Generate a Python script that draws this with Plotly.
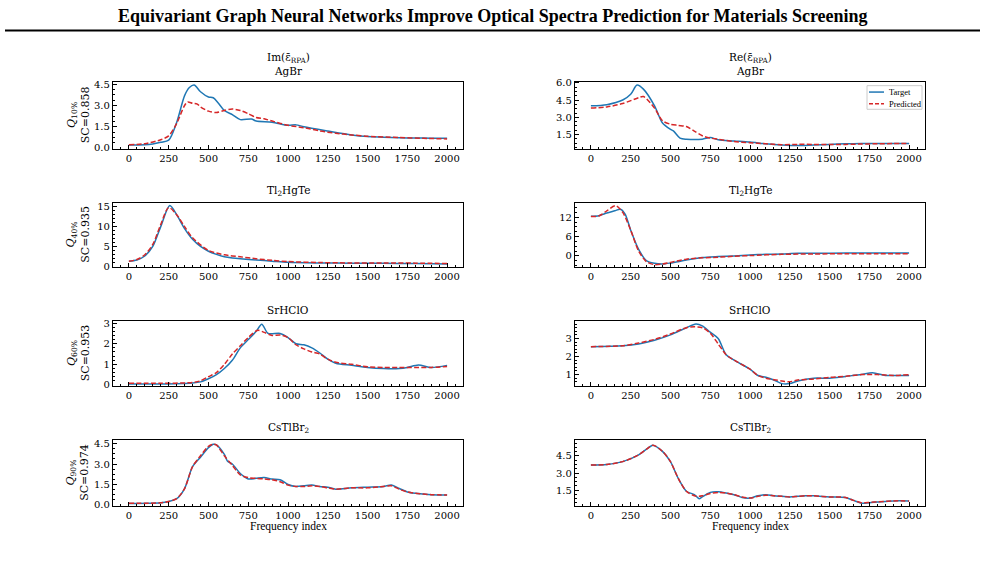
import plotly.graph_objects as go

W, H = 985, 561

# ------------------------- data -------------------------
freq_ticks = [0, 250, 500, 750, 1000, 1250, 1500, 1750, 2000]
materials = ["AgBr", "Tl<sub>2</sub>HgTe", "SrHClO", "CsTlBr<sub>2</sub>"]
quantiles = ["10%", "40%", "60%", "90%"]
sc_scores = ["0.858", "0.935", "0.953", "0.974"]
col_titles = ["Im(ε̄<sub>RPA</sub>)", "Re(ε̄<sub>RPA</sub>)"]

# AgBr, Im
agbr_im_tx = [0, 100, 150, 200, 250, 300, 350, 380, 410, 450, 500, 530, 560, 600, 650, 700, 770, 800, 900, 1000, 1050, 1100, 1250, 1400, 1500, 1600, 1700, 1800, 1900, 2000]
agbr_im_ty = [0.2, 0.22, 0.28, 0.4, 0.55, 1.8, 3.7, 4.27, 4.45, 3.97, 3.6, 3.55, 3.2, 2.65, 2.35, 2.0, 2.05, 1.9, 1.82, 1.6, 1.63, 1.5, 1.2, 0.92, 0.8, 0.76, 0.72, 0.7, 0.69, 0.69]
agbr_im_px = [0, 100, 200, 250, 300, 350, 370, 400, 430, 450, 500, 550, 600, 650, 700, 750, 800, 850, 900, 1000, 1100, 1200, 1300, 1400, 1500, 1700, 1850, 2000]
agbr_im_py = [0.23, 0.3, 0.58, 0.85, 1.73, 3.0, 3.25, 3.15, 3.1, 2.9, 2.6, 2.5, 2.65, 2.75, 2.65, 2.42, 2.15, 2.06, 1.9, 1.6, 1.43, 1.2, 1.04, 0.92, 0.82, 0.74, 0.68, 0.64]

# AgBr, Re
agbr_re_tx = [0, 100, 200, 250, 290, 330, 400, 450, 500, 520, 560, 600, 700, 750, 800, 900, 1000, 1100, 1200, 1300, 1400, 1500, 1600, 1700, 1800, 1900, 2000]
agbr_re_ty = [4.0, 4.1, 4.5, 5.0, 5.8, 5.45, 4.0, 2.5, 1.95, 1.8, 1.2, 1.1, 1.1, 1.25, 1.05, 0.95, 0.85, 0.7, 0.6, 0.55, 0.6, 0.65, 0.7, 0.72, 0.72, 0.72, 0.72]
agbr_re_px = [0, 100, 200, 300, 330, 400, 450, 500, 550, 600, 650, 700, 750, 800, 900, 1000, 1100, 1200, 1300, 1400, 1500, 1600, 1700, 1800, 1900, 2000]
agbr_re_py = [3.8, 3.9, 4.2, 4.7, 4.8, 3.8, 2.7, 2.4, 2.3, 2.2, 1.8, 1.4, 1.2, 1.1, 0.9, 0.8, 0.7, 0.62, 0.65, 0.65, 0.65, 0.65, 0.68, 0.7, 0.72, 0.72]

# Tl2HgTe, Im
tl_im_tx = [0, 50, 100, 150, 200, 257, 300, 350, 400, 450, 500, 550, 600, 650, 700, 800, 900, 1000, 1200, 1400, 1600, 1800, 2000]
tl_im_ty = [1.3, 1.6, 2.6, 5.0, 10.0, 15.3, 13.0, 9.5, 6.8, 5.0, 3.8, 3.0, 2.4, 2.1, 1.9, 1.6, 1.3, 1.0, 0.85, 0.8, 0.75, 0.7, 0.6]
tl_im_px = [0, 50, 100, 150, 200, 250, 300, 350, 400, 500, 600, 700, 800, 900, 1000, 1200, 1400, 1600, 1800, 2000]
tl_im_py = [1.3, 1.7, 2.9, 5.5, 10.5, 14.8, 13.0, 10.0, 7.2, 4.0, 2.9, 2.4, 1.9, 1.5, 1.2, 0.95, 0.85, 0.85, 0.8, 0.7]

# Tl2HgTe, Re
tl_re_tx = [0, 50, 100, 150, 185, 215, 250, 300, 350, 400, 450, 500, 600, 700, 800, 900, 1000, 1100, 1200, 1300, 1500, 1700, 2000]
tl_re_ty = [12.3, 12.5, 13.3, 14.0, 14.5, 13.0, 8.0, 2.0, -1.5, -2.3, -2.5, -2.2, -1.3, -0.5, -0.2, 0.0, 0.3, 0.5, 0.6, 0.8, 0.85, 0.9, 0.9]
tl_re_px = [0, 50, 100, 155, 200, 250, 300, 350, 400, 450, 500, 600, 700, 800, 900, 1000, 1200, 1400, 1600, 1800, 2000]
tl_re_py = [12.2, 12.4, 14.0, 15.6, 13.5, 8.0, 1.5, -1.8, -2.7, -2.5, -2.0, -1.0, -0.6, -0.4, -0.1, 0.1, 0.5, 0.6, 0.7, 0.7, 0.7]

# SrHClO, Im
sr_im_tx = [0, 200, 400, 450, 500, 550, 600, 650, 700, 750, 800, 835, 875, 950, 1000, 1050, 1100, 1150, 1200, 1250, 1300, 1400, 1500, 1600, 1700, 1750, 1820, 1900, 2000]
sr_im_ty = [0.05, 0.05, 0.1, 0.15, 0.3, 0.5, 0.8, 1.2, 1.8, 2.2, 2.6, 2.95, 2.5, 2.5, 2.3, 2.0, 1.95, 1.8, 1.55, 1.25, 1.05, 0.95, 0.85, 0.8, 0.8, 0.85, 0.97, 0.85, 0.95]
sr_im_px = [0, 200, 400, 450, 500, 550, 600, 650, 700, 750, 810, 850, 900, 950, 1000, 1050, 1100, 1150, 1200, 1250, 1300, 1400, 1500, 1600, 1700, 1800, 1900, 2000]
sr_im_py = [0.08, 0.08, 0.12, 0.2, 0.4, 0.6, 1.0, 1.5, 1.9, 2.3, 2.65, 2.55, 2.4, 2.42, 2.3, 1.95, 1.75, 1.6, 1.5, 1.25, 1.1, 1.0, 0.88, 0.85, 0.85, 0.85, 0.85, 0.9]

# SrHClO, Re
sr_re_tx = [0, 200, 300, 400, 500, 600, 660, 700, 750, 800, 850, 900, 1000, 1050, 1100, 1150, 1200, 1250, 1300, 1400, 1500, 1600, 1700, 1770, 1850, 1900, 2000]
sr_re_ty = [2.55, 2.6, 2.7, 2.9, 3.2, 3.6, 3.8, 3.7, 3.35, 3.0, 2.1, 1.8, 1.3, 0.95, 0.85, 0.7, 0.5, 0.5, 0.65, 0.8, 0.8, 0.9, 1.0, 1.1, 0.95, 0.95, 0.95]
sr_re_px = [0, 200, 300, 400, 500, 600, 650, 700, 750, 800, 850, 900, 1000, 1050, 1100, 1200, 1250, 1300, 1400, 1500, 1600, 1700, 1800, 1900, 2000]
sr_re_py = [2.55, 2.6, 2.75, 2.95, 3.25, 3.6, 3.65, 3.6, 3.3, 2.7, 2.1, 1.8, 1.3, 0.95, 0.8, 0.65, 0.6, 0.7, 0.75, 0.85, 0.9, 1.0, 1.0, 0.95, 1.0]

# CsTlBr2, Im
cs_im_tx = [0, 200, 250, 300, 350, 400, 450, 500, 530, 550, 600, 620, 650, 700, 750, 800, 850, 900, 950, 1000, 1050, 1100, 1150, 1200, 1250, 1300, 1400, 1500, 1600, 1650, 1700, 1750, 1800, 1900, 2000]
cs_im_ty = [0.1, 0.15, 0.25, 0.45, 1.2, 2.8, 3.5, 4.2, 4.45, 4.4, 3.7, 3.2, 3.0, 2.3, 1.9, 1.95, 2.0, 1.9, 1.85, 1.5, 1.35, 1.4, 1.45, 1.35, 1.3, 1.15, 1.25, 1.3, 1.35, 1.45, 1.2, 0.95, 0.85, 0.75, 0.72]
cs_im_px = [0, 200, 250, 300, 350, 400, 450, 500, 530, 550, 600, 650, 700, 750, 800, 850, 900, 950, 1000, 1050, 1100, 1150, 1200, 1250, 1300, 1400, 1500, 1600, 1650, 1700, 1750, 1800, 1900, 2000]
cs_im_py = [0.12, 0.15, 0.25, 0.45, 1.2, 2.8, 3.6, 4.3, 4.45, 4.4, 3.6, 2.9, 2.2, 2.0, 1.95, 1.9, 1.85, 1.7, 1.45, 1.35, 1.35, 1.4, 1.35, 1.25, 1.15, 1.25, 1.25, 1.35, 1.4, 1.15, 0.95, 0.85, 0.75, 0.72]

# CsTlBr2, Re
cs_re_tx = [0, 100, 200, 300, 350, 390, 450, 500, 550, 600, 650, 680, 700, 750, 800, 850, 900, 950, 1000, 1050, 1100, 1150, 1200, 1250, 1300, 1350, 1400, 1500, 1600, 1650, 1700, 1750, 1800, 1900, 2000]
cs_re_ty = [3.7, 3.75, 4.0, 4.6, 5.1, 5.45, 4.9, 4.0, 2.5, 1.4, 1.1, 0.75, 0.9, 1.3, 1.35, 1.25, 1.1, 0.85, 0.8, 1.0, 1.1, 1.0, 0.95, 0.9, 0.95, 1.0, 1.0, 0.9, 0.85, 0.6, 0.35, 0.4, 0.45, 0.55, 0.55]
cs_re_px = [0, 100, 200, 300, 350, 390, 450, 500, 550, 600, 650, 680, 700, 750, 800, 850, 900, 950, 1000, 1050, 1100, 1150, 1200, 1250, 1300, 1350, 1400, 1500, 1600, 1650, 1700, 1750, 1800, 1900, 2000]
cs_re_py = [3.7, 3.75, 4.0, 4.6, 5.1, 5.45, 4.9, 4.0, 2.5, 1.4, 1.0, 0.95, 1.0, 1.2, 1.3, 1.25, 1.1, 0.9, 0.8, 0.95, 1.05, 1.0, 0.95, 0.9, 0.95, 1.0, 1.0, 0.9, 0.85, 0.6, 0.4, 0.42, 0.47, 0.55, 0.55]

series = [  # (target x, target y, predicted x, predicted y), row-major: Im, Re
    (agbr_im_tx, agbr_im_ty, agbr_im_px, agbr_im_py),
    (agbr_re_tx, agbr_re_ty, agbr_re_px, agbr_re_py),
    (tl_im_tx, tl_im_ty, tl_im_px, tl_im_py),
    (tl_re_tx, tl_re_ty, tl_re_px, tl_re_py),
    (sr_im_tx, sr_im_ty, sr_im_px, sr_im_py),
    (sr_re_tx, sr_re_ty, sr_re_px, sr_re_py),
    (cs_im_tx, cs_im_ty, cs_im_px, cs_im_py),
    (cs_re_tx, cs_re_ty, cs_re_px, cs_re_py),
]

y_ranges = [[-0.05, 4.68], [0.28, 6.09], [-0.1, 16.0], [-3.35, 16.5],
            [-0.04, 3.11], [0.38, 3.98], [-0.07, 4.77], [0.12, 5.91]]
y_dticks = [1.5, 1.5, 5, 6, 1, 1, 1.5, 1.5]
y_minor = [0.375, 0.375, 1, 1.5, 0.2, 0.2, 0.375, 0.375]
y_fmt = [".1f", ".1f", "d", "d", "d", "d", ".1f", ".1f"]

# ------------------------- layout -------------------------
col_px = [(113, 463), (575, 925)]
row_px = [(79, 147), (202, 267), (322, 388), (443, 510)]

BLUE = "#1f77b4"
RED = "#d62728"
SERIF = "DejaVu Serif"
TIMES = "Liberation Serif"

def px_x(x):
    return x / W

def px_y(y):
    return 1 - y / H

fig = go.Figure()
annotations = []
shapes = []
layout = {}

for i, (tx, ty, pxs, pys) in enumerate(series):
    r, c = divmod(i, 2)
    n = i + 1
    xa = "x" if n == 1 else f"x{n}"
    ya = "y" if n == 1 else f"y{n}"
    fig.add_trace(go.Scatter(x=tx, y=ty, mode="lines", xaxis=xa, yaxis=ya,
                             line=dict(color=BLUE, width=1.5, shape="spline", smoothing=0.8),
                             name="Target", showlegend=False))
    fig.add_trace(go.Scatter(x=pxs, y=pys, mode="lines", xaxis=xa, yaxis=ya,
                             line=dict(color=RED, width=1.5, dash="5px,2.3px", shape="spline", smoothing=0.8),
                             name="Predicted", showlegend=False))
    x0, x1 = col_px[c]
    y0, y1 = row_px[r]
    axis_common = dict(showline=True, mirror=True, linecolor="black", linewidth=1.2,
                       ticks="inside", tickcolor="black", tickwidth=1, ticklen=4,
                       showgrid=False, zeroline=False,
                       tickfont=dict(family=SERIF, size=10, color="black"))
    layout["xaxis" if n == 1 else f"xaxis{n}"] = dict(
        domain=[px_x(x0), px_x(x1)], anchor=ya, range=[-100, 2100],
        tickvals=freq_ticks, ticktext=[str(v) for v in freq_ticks],
        minor=dict(ticks="inside", ticklen=2, tickwidth=1, tickcolor="black", dtick=50, tick0=0),
        **axis_common)
    layout["yaxis" if n == 1 else f"yaxis{n}"] = dict(
        domain=[px_y(y1), px_y(y0)], anchor=xa, range=y_ranges[i],
        dtick=y_dticks[i], tick0=0, tickformat=y_fmt[i],
        minor=dict(ticks="inside", ticklen=2, tickwidth=1, tickcolor="black", dtick=y_minor[i], tick0=0),
        **axis_common)

    cx = px_x((x0 + x1) / 2)
    # panel title
    annotations.append(dict(text=materials[r], x=cx, y=px_y(y0), xref="paper", yref="paper",
                            xanchor="center", yanchor="bottom", yshift=3, showarrow=False,
                            font=dict(family=SERIF, size=10.5, color="black")))
    if r == 0:
        annotations.append(dict(text=col_titles[c], x=cx, y=px_y(y0), xref="paper", yref="paper",
                                xanchor="center", yanchor="bottom", yshift=15, showarrow=False,
                                font=dict(family=SERIF, size=10.5, color="black")))
    if c == 0:
        annotations.append(dict(text=f"<i>Q</i><sub>{quantiles[r]}</sub><br>SC={sc_scores[r]}",
                                x=px_x(78), y=px_y((y0 + y1) / 2), xref="paper", yref="paper",
                                xanchor="center", yanchor="middle", textangle=-90, showarrow=False,
                                font=dict(family=SERIF, size=11, color="black")))
    if r == 3:
        annotations.append(dict(text="Frequency index", x=cx, y=px_y(531), xref="paper", yref="paper",
                                xanchor="center", yanchor="middle", showarrow=False,
                                font=dict(family=TIMES, size=11.5, color="black")))

# main title and rule
annotations.append(dict(text="<b>Equivariant Graph Neural Networks Improve Optical Spectra Prediction for Materials Screening</b>",
                        x=0.5, y=px_y(12), xref="paper", yref="paper", xanchor="center", yanchor="middle",
                        showarrow=False, font=dict(family=TIMES, size=18, color="black")))
shapes.append(dict(type="line", xref="paper", yref="paper", x0=px_x(5), x1=px_x(980),
                   y0=px_y(27), y1=px_y(27), line=dict(color="black", width=2)))

# legend (drawn in the first Re panel)
lx0, lx1, ly0, ly1 = 867, 922, 83, 107
shapes.append(dict(type="rect", xref="paper", yref="paper", x0=px_x(lx0), x1=px_x(lx1),
                   y0=px_y(ly1), y1=px_y(ly0), line=dict(color="#cccccc", width=1),
                   fillcolor="rgba(255,255,255,0.8)"))
legend_items = [("Target", BLUE, "solid", 89.5), ("Predicted", RED, "4px,2px", 101.5)]
for label, color, dash, yy in legend_items:
    shapes.append(dict(type="line", xref="paper", yref="paper", x0=px_x(869), x1=px_x(884),
                       y0=px_y(yy), y1=px_y(yy), line=dict(color=color, width=1.5, dash=dash)))
    annotations.append(dict(text=label, x=px_x(887), y=px_y(yy), xref="paper", yref="paper",
                            xanchor="left", yanchor="middle", showarrow=False,
                            font=dict(family=TIMES, size=8.5, color="black")))

fig.update_layout(width=W, height=H, margin=dict(l=0, r=0, t=0, b=0),
                  paper_bgcolor="white", plot_bgcolor="white", showlegend=False,
                  annotations=annotations, shapes=shapes, **layout)

fig.write_html("out.html")
